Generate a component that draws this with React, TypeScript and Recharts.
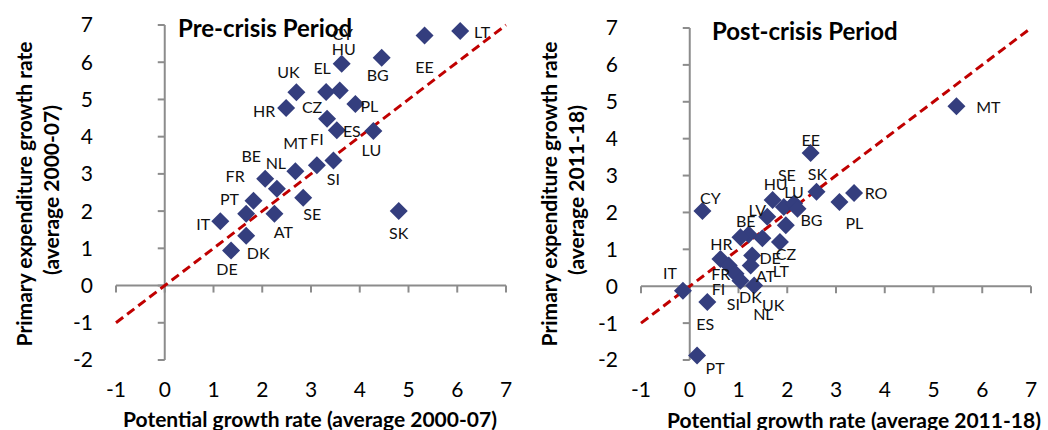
import React from 'react';
import { ScatterChart, Scatter, XAxis, YAxis, ReferenceLine, ReferenceDot } from 'recharts';

// ---------- DATA ----------
const xTicks = [-1, 0, 1, 2, 3, 4, 5, 6, 7];
const yTicks = [-2, -1, 0, 1, 2, 3, 4, 5, 6, 7];

const preCountries = ['LT', 'EE', 'BG', 'HU', 'CY', 'EL', 'PL', 'UK', 'HR', 'CZ', 'ES', 'LU', 'MT', 'FI', 'SI', 'BE', 'NL', 'SE', 'PT', 'FR', 'AT', 'IT', 'DK', 'DE', 'SK'];
const prePotential = [6.06, 5.33, 4.45, 3.63, 3.59, 3.31, 3.91, 2.7, 2.49, 3.33, 3.53, 4.28, 2.68, 3.12, 3.46, 2.06, 2.3, 2.84, 1.82, 1.67, 2.25, 1.14, 1.67, 1.36, 4.8];
const preExpenditure = [6.84, 6.72, 6.12, 5.96, 5.24, 5.2, 4.88, 5.19, 4.77, 4.48, 4.17, 4.15, 3.07, 3.23, 3.36, 2.87, 2.6, 2.36, 2.28, 1.93, 1.93, 1.73, 1.34, 0.94, 2.0];

const postCountries = ['MT', 'EE', 'SK', 'RO', 'PL', 'CY', 'HU', 'SE', 'LU', 'BG', 'LV', 'LT', 'BE', 'SI', 'NL', 'CZ', 'HR', 'FR', 'DE', 'AT', 'FI', 'DK', 'UK', 'IT', 'ES', 'PT'];
const postPotential = [5.47, 2.48, 2.6, 3.37, 3.07, 0.26, 1.7, 1.93, 2.14, 2.21, 1.59, 1.97, 1.21, 1.04, 1.49, 1.85, 0.63, 0.8, 1.28, 1.25, 0.94, 1.04, 1.32, -0.14, 0.36, 0.15];
const postExpenditure = [4.88, 3.61, 2.56, 2.53, 2.28, 2.04, 2.34, 2.15, 2.24, 2.1, 1.88, 1.65, 1.4, 1.33, 1.3, 1.2, 0.74, 0.56, 0.83, 0.56, 0.34, 0.15, 0.02, -0.12, -0.43, -1.88];

// 45-degree reference line (y = x)
const diagonalX = [-1, 7];
const diagonalY = [-1, 7];

// ---------- STYLES ----------
const preLabelOffsets: Record<string, [number, number]> = {
  LT: [22, 1], EE: [0, 31], BG: [-4, 17], HU: [2, -15], CY: [3, -57], EL: [-4, -25],
  PL: [14, 2], UK: [-8, -21], HR: [-22, 2], CZ: [-15, -12], ES: [15, 0], LU: [-2, 18],
  MT: [0, -29], FI: [0, -27], SI: [0, 18], BE: [-14, -23], NL: [-1, -26], SE: [9, 16],
  PT: [-24, -2], FR: [-11, -38], AT: [9, 18], IT: [-17, 2], DK: [12, 17], DE: [-4, 18], SK: [0, 21],
};
const postLabelOffsets: Record<string, [number, number]> = {
  MT: [32, 0], EE: [0, -14], SK: [1, -18], RO: [22, 0], PL: [15, 20], CY: [8, -13],
  HU: [3, -16], SE: [3, -32], LU: [0, -12], BG: [14, 11], LV: [-10, -7], LT: [-5, 45],
  BE: [-3, -14], SI: [-7, 66], NL: [1, 75], CZ: [6, 12], HR: [1, -15], FR: [-8, 8],
  DE: [18, 2], AT: [15, 10], FI: [-17, 15], DK: [10, 16], UK: [19, 19], IT: [-13, -18],
  ES: [-2, 21], PT: [18, 12],
};

const FONT = 'Lato, "Open Sans", sans-serif';
const AXIS_GREY = '#8c8c8c';
const MARKER = '#343e7e';
const RED = '#c00000';

type Pt = { name: string; x: number; y: number };

const build = (names: string[], xs: number[], ys: number[]): Pt[] =>
  names.map((n, i) => ({ name: n, x: xs[i], y: ys[i] }));

const preData = build(preCountries, prePotential, preExpenditure);
const postData = build(postCountries, postPotential, postExpenditure);
const diagonal = diagonalX.map((x, i) => ({ x, y: diagonalY[i] }));

const Diamond = (p: any) => {
  const { cx, cy } = p;
  const r = 9;
  return <polygon points={`${cx},${cy - r} ${cx + r},${cy} ${cx},${cy + r} ${cx - r},${cy}`} fill={MARKER} />;
};

const makeLabel = (offsets: Record<string, [number, number]>) => (p: any) => {
  const { cx, cy, payload } = p;
  const name = payload?.name ?? '';
  const [dx, dy] = offsets[name] || [0, 0];
  return (
    <text x={cx + dx} y={cy + dy} textAnchor="middle" dominantBaseline="central" fontSize={16} fill="#111" fontFamily={FONT}>
      {name}
    </text>
  );
};

const YTickMark = (p: any) => <line x1={p.cx - 7} y1={p.cy} x2={p.cx} y2={p.cy} stroke={AXIS_GREY} strokeWidth={2} />;
const XTickMark = (p: any) => <line x1={p.cx} y1={p.cy} x2={p.cx} y2={p.cy + 7} stroke={AXIS_GREY} strokeWidth={2} />;

type PanelProps = {
  data: Pt[];
  offsets: Record<string, [number, number]>;
  top: number;
};

const Panel = ({ data, offsets, top }: PanelProps) => (
  <ScatterChart width={520} height={430} margin={{ top, right: 14, bottom: 0, left: 0 }}>
    <XAxis
      type="number"
      dataKey="x"
      domain={[-1, 7]}
      ticks={xTicks}
      axisLine={false}
      tickLine={false}
      tickSize={0}
      tickMargin={22}
      height={70}
      interval={0}
      tick={{ fontSize: 21, fill: '#000', fontFamily: FONT }}
    />
    <YAxis
      type="number"
      dataKey="y"
      domain={[-2, 7]}
      ticks={yTicks}
      axisLine={false}
      tickLine={false}
      tickSize={0}
      tickMargin={23}
      width={116}
      interval={0}
      tick={{ fontSize: 21, fill: '#000', fontFamily: FONT }}
    />
    <ReferenceLine x={0} stroke={AXIS_GREY} strokeWidth={2} />
    <ReferenceLine y={0} stroke={AXIS_GREY} strokeWidth={2} />
    {yTicks.map((t) => (
      <ReferenceDot key={'yt' + t} x={0} y={t} r={1} shape={YTickMark} />
    ))}
    {xTicks.map((t) => (
      <ReferenceDot key={'xt' + t} x={t} y={0} r={1} shape={XTickMark} />
    ))}
    <Scatter
      data={diagonal}
      isAnimationActive={false}
      line={{ stroke: RED, strokeWidth: 3, strokeDasharray: '9 5' }}
      shape={() => <g />}
    />
    <Scatter data={data} isAnimationActive={false} shape={Diamond} />
    <Scatter data={data} isAnimationActive={false} shape={makeLabel(offsets)} />
  </ScatterChart>
);

const titleStyle = { fontFamily: FONT, fontWeight: 700 } as const;

export default function App() {
  return (
    <div style={{ position: 'absolute', left: 0, top: 0, width: 1048, height: 430, background: '#fff', overflow: 'hidden' }}>
      <svg width={1048} height={430} style={{ position: 'absolute', left: 0, top: 0, pointerEvents: 'none' }}>
        <g style={titleStyle} fill="#000">
          <text x={178} y={27} fontSize={24} dominantBaseline="central">Pre-crisis Period</text>
          <text x={712} y={30} fontSize={24} dominantBaseline="central">Post-crisis Period</text>
          <text x={310} y={418} fontSize={21} textAnchor="middle" dominantBaseline="central">Potential growth rate (average 2000-07)</text>
          <text x={854} y={419} fontSize={21} textAnchor="middle" dominantBaseline="central">Potential growth rate (average 2011-18)</text>
          <text transform="translate(23,194) rotate(-90)" fontSize={21} textAnchor="middle" dominantBaseline="central">Primary expenditure growth rate</text>
          <text transform="translate(50,190) rotate(-90)" fontSize={21} textAnchor="middle" dominantBaseline="central">(average 2000-07)</text>
          <text transform="translate(548,194) rotate(-90)" fontSize={21} textAnchor="middle" dominantBaseline="central">Primary expenditure growth rate</text>
          <text transform="translate(575,190) rotate(-90)" fontSize={21} textAnchor="middle" dominantBaseline="central">(average 2011-18)</text>
        </g>
      </svg>
      <div style={{ position: 'absolute', left: 0, top: 0 }}>
        <Panel data={preData} offsets={preLabelOffsets} top={25} />
      </div>
      <div style={{ position: 'absolute', left: 525, top: 0 }}>
        <Panel data={postData} offsets={postLabelOffsets} top={28} />
      </div>
    </div>
  );
}
